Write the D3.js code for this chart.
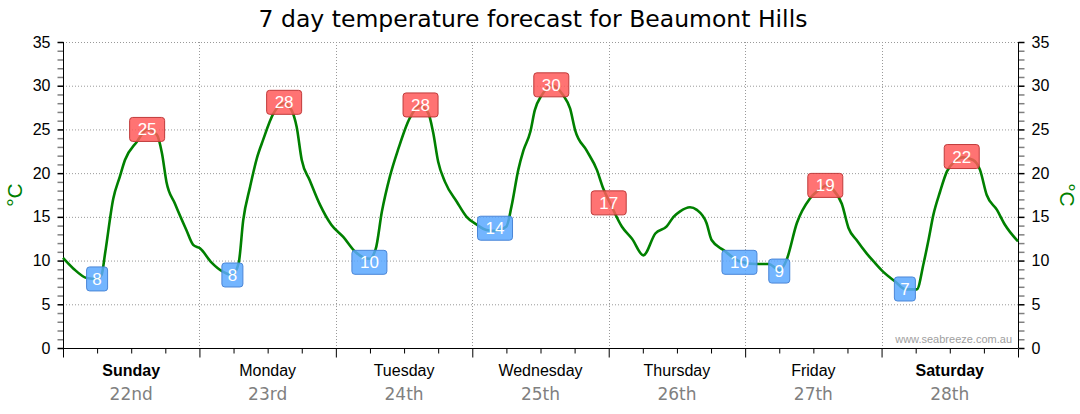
<!DOCTYPE html>
<html>
<head>
<meta charset="utf-8">
<script src="https://cdn.jsdelivr.net/npm/d3@7"></script>
<style>
  html, body { margin: 0; padding: 0; background: #fff; }
  svg { display: block; }
</style>
</head>
<body>
<svg id="chart" width="1080" height="414"></svg>
<script>
// ---------------- data ----------------
const titleText = "7 day temperature forecast for Beaumont Hills";
const dayNames = ["Sunday", "Monday", "Tuesday", "Wednesday", "Thursday", "Friday", "Saturday"];
const dayDates = ["22nd", "23rd", "24th", "25th", "26th", "27th", "28th"];
const boldDays = ["Sunday", "Saturday"];
const yTicks = [0, 5, 10, 15, 20, 25, 30, 35];

// hours since Sunday 00:00 and temperature (°C)
const hours = [0, 1.8, 4.2, 6.0, 6.8, 7.4, 8.85, 10.0, 10.9, 13.0, 14.8, 16.5, 17.4, 18.2, 19.7, 21.7, 22.9, 24.1, 26.1, 28.2,
  29.8, 30.9, 31.7, 32.9, 34.1, 35.2, 37.0, 38.9, 40.2, 41.1, 42.0, 43.4, 45.2, 47.2, 49.3, 51.4, 53.9, 55.0, 56.1, 57.5,
  59.0, 61.0, 62.9, 64.3, 65.1, 66.0, 67.2, 69.3, 71.0, 72.8, 74.5, 76.0, 78.0, 78.9, 80.1, 81.0, 82.2, 83.0, 84.2, 86.0,
  88.0, 89.2, 90.1, 92.1, 93.9, 95.0, 96.3, 98.3, 100.1, 102.1, 104.2, 106.2, 107.4, 108.5, 110.3, 111.5, 113.2, 114.1, 116.2, 119.1,
  122.0, 124.1, 126.1, 127.3, 129.1, 131.4, 133.5, 134.3, 135.5, 137.0, 138.2, 139.6, 141.4, 142.6, 144.3, 146.4, 148.2, 150.2, 151.4, 152.3,
  153.1, 154.3, 155.5, 156.8, 158.3, 160.1, 161.3, 162.5, 164.3, 165.7, 168.0];
const temps = [10.3, 9.1, 8.0, 7.9, 8.4, 10.8, 17.1, 19.6, 21.5, 23.6, 25.0, 24.4, 22.3, 19.0, 16.5, 13.5, 11.8, 11.4, 9.8, 8.7,
  8.35, 9.7, 14.6, 18.4, 21.7, 23.8, 26.8, 28.0, 27.2, 25.3, 21.5, 19.2, 16.4, 14.1, 12.7, 11.0, 10.2, 11.3, 15.6, 19.6,
  22.8, 26.3, 27.7, 26.8, 24.7, 21.3, 19.0, 16.7, 15.0, 14.1, 13.5, 13.4, 13.9, 16.2, 20.4, 22.6, 24.7, 27.2, 28.9, 30.0,
  28.9, 27.4, 24.9, 22.6, 20.4, 18.3, 16.5, 13.9, 12.5, 10.6, 13.1, 13.9, 15.0, 15.6, 16.1, 15.8, 14.3, 12.35, 11.2, 9.9,
  9.6, 9.6, 8.9, 10.1, 14.3, 17.1, 18.3, 18.6, 18.1, 16.5, 13.7, 12.35, 10.8, 9.9, 8.7, 7.6, 6.7, 6.7, 9.7, 12.5,
  15.2, 17.9, 20.2, 21.3, 21.8, 21.5, 20.4, 17.5, 15.8, 14.1, 12.2];

// high / low markers
const labelHours = [6.0, 14.8, 29.8, 38.9, 53.9, 62.9, 76.0, 85.9, 96.0, 119.0, 126.0, 134.1, 148.1, 158.1];
const labelTemps = [7.9, 25.0, 8.35, 28.1, 9.8, 27.8, 13.7, 30.1, 16.6, 9.8, 8.8, 18.6, 6.75, 21.9];
const labelText = ["8", "25", "8", "28", "10", "28", "14", "30", "17", "10", "9", "19", "7", "22"];
const labelKind = ["low", "high", "low", "high", "low", "high", "low", "high", "high", "low", "low", "high", "low", "high"];

// ---------------- layout ----------------
(function () {
const svg = d3.select("#chart");
const pLeft = 63, pRight = 1018, pTop = 42, pBottom = 348;
const x = d3.scaleLinear().domain([0, 168]).range([pLeft, pRight]);
const y = d3.scaleLinear().domain([0, 35]).range([pBottom, pTop]);
const fontSans = "'Liberation Sans', Arial, sans-serif";
const fontDate = "'DejaVu Sans', Verdana, sans-serif";

// title
svg.append("text")
  .attr("x", 533).attr("y", 27)
  .attr("text-anchor", "middle")
  .style("font-family", fontDate)
  .style("font-size", "23.5px")
  .attr("fill", "#000")
  .text(titleText);

// grid
const g = svg.append("g");
g.selectAll("line.hgrid").data(yTicks.filter(d => d > 0)).enter().append("line")
  .attr("x1", pLeft).attr("x2", pRight)
  .attr("y1", d => y(d) + 0.5).attr("y2", d => y(d) + 0.5)
  .attr("stroke", "#999").attr("stroke-width", 1).attr("stroke-dasharray", "1,2");
const dayBounds = d3.range(1, 7).map(i => i * 24);
g.selectAll("line.vgrid").data(dayBounds).enter().append("line")
  .attr("x1", d => Math.round(x(d)) + 0.5).attr("x2", d => Math.round(x(d)) + 0.5)
  .attr("y1", pTop).attr("y2", pBottom)
  .attr("stroke", "#999").attr("stroke-width", 1).attr("stroke-dasharray", "1,2");

// y axes (major + minor ticks)
function yAxis(side) {
  const minor = d3.range(0, 36).filter(v => v % 5 !== 0);
  const gy = svg.append("g")
    .attr("transform", `translate(${side === "left" ? pLeft + 0.5 : pRight + 0.5},0)`);
  const axMinor = (side === "left" ? d3.axisLeft(y) : d3.axisRight(y))
    .tickValues(minor).tickSize(6).tickFormat("");
  const gMinor = gy.append("g").call(axMinor);
  gMinor.select(".domain").remove();
  gMinor.selectAll("line").attr("stroke", "#808080").attr("stroke-width", 1.5);
  const axMajor = (side === "left" ? d3.axisLeft(y) : d3.axisRight(y))
    .tickValues(yTicks).tickSize(6).tickPadding(7).tickFormat(d3.format("d"));
  const gMajor = gy.append("g").call(axMajor);
  gMajor.select(".domain").attr("stroke", "#000").attr("d", `M0,${pTop}V${pBottom}`);
  gMajor.selectAll("line").attr("stroke", "#000").attr("stroke-width", 1.5);
  gMajor.selectAll("text")
    .style("font-family", fontSans).style("font-size", "16px").attr("fill", "#000");
}
yAxis("left");
yAxis("right");

// x axis
const gx = svg.append("g").attr("transform", `translate(0,${pBottom + 0.5})`);
const minorHours = d3.range(0, 169, 6).filter(h => h % 24 !== 0);
const gxMinor = gx.append("g").call(d3.axisBottom(x).tickValues(minorHours).tickSize(5).tickFormat(""));
gxMinor.select(".domain").remove();
gxMinor.selectAll("line").attr("stroke", "#000");
const gxMajor = gx.append("g").call(d3.axisBottom(x).tickValues(d3.range(0, 169, 24)).tickSize(9).tickFormat(""));
gxMajor.select(".domain").attr("stroke", "#000").attr("d", `M${pLeft},0H${pRight}`);
gxMajor.selectAll("line").attr("stroke", "#000");

// day labels
const dayG = svg.append("g");
dayNames.forEach((name, i) => {
  const cx = x(i * 24 + 12);
  dayG.append("text")
    .attr("x", cx).attr("y", 376)
    .attr("text-anchor", "middle")
    .style("font-family", fontSans).style("font-size", "16px")
    .style("font-weight", boldDays.includes(name) ? "bold" : "normal")
    .attr("fill", "#000")
    .text(name);
  dayG.append("text")
    .attr("x", cx).attr("y", 400)
    .attr("text-anchor", "middle")
    .style("font-family", fontDate).style("font-size", "17px")
    .attr("fill", "#808080")
    .text(dayDates[i]);
});

// axis titles
svg.append("text")
  .attr("transform", "translate(22,195) rotate(-90)")
  .attr("text-anchor", "middle")
  .style("font-family", fontSans).style("font-size", "21px")
  .attr("fill", "#008000")
  .text("°C");
svg.append("text")
  .attr("transform", "translate(1060,195) rotate(90)")
  .attr("text-anchor", "middle")
  .style("font-family", fontSans).style("font-size", "21px")
  .attr("fill", "#008000")
  .text("°C");

// watermark
svg.append("text")
  .attr("x", 1012).attr("y", 343)
  .attr("text-anchor", "end")
  .style("font-family", fontSans).style("font-size", "11px")
  .attr("fill", "#a0a0a0")
  .text("www.seabreeze.com.au");

// temperature line
const pts = hours.map((h, i) => [h, temps[i]]);
const line = d3.line().x(d => x(d[0])).y(d => y(d[1])).curve(d3.curveMonotoneX);
svg.append("path")
  .datum(pts)
  .attr("d", line)
  .attr("fill", "none")
  .attr("stroke", "#008000")
  .attr("stroke-width", 2.6)
  .attr("stroke-linejoin", "round");

// high/low markers
const lab = svg.append("g");
labelHours.forEach((h, i) => {
  const cx = x(h), cy = y(labelTemps[i]);
  const w = labelText[i].length > 1 ? 35 : 21, hgt = 24;
  const hi = labelKind[i] === "high";
  lab.append("rect")
    .attr("x", cx - w / 2).attr("y", cy - hgt / 2)
    .attr("width", w).attr("height", hgt)
    .attr("rx", 3).attr("ry", 3)
    .attr("fill", hi ? "#ff5a5a" : "#5aa8ff")
    .attr("fill-opacity", 0.85)
    .attr("stroke", hi ? "#c03a3a" : "#4a86d8")
    .attr("stroke-width", 1);
  lab.append("text")
    .attr("x", cx).attr("y", cy + 6)
    .attr("text-anchor", "middle")
    .style("font-family", fontSans).style("font-size", "17px")
    .attr("fill", "#fff")
    .text(labelText[i]);
});
})();
</script>
</body>
</html>
